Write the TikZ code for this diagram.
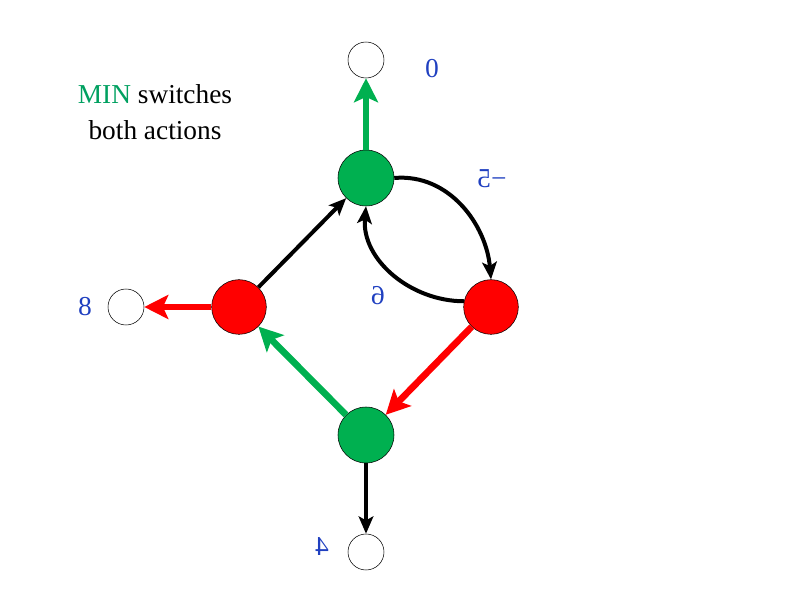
\documentclass[tikz,border=0pt]{standalone}
\usepackage{graphicx}
\usepackage{fontspec}
\setmainfont{Liberation Serif}
\usepackage{tikz}
\usetikzlibrary{positioning,arrows.meta}
\definecolor{mingreen}{RGB}{0,176,80}
\definecolor{maxred}{RGB}{255,0,0}
\definecolor{valblue}{RGB}{32,64,192}
\definecolor{notegreen}{RGB}{0,160,96}

\begin{document}
\begin{tikzpicture}[x=0.75pt,y=-0.75pt,
  every node/.style={font=\fontsize{20.5}{27}\selectfont},
  leaf/.style={circle,draw,fill=white,minimum size=27pt,inner sep=0pt},
  minnode/.style={circle,draw,fill=mingreen,minimum size=42pt,inner sep=0pt},
  maxnode/.style={circle,draw,fill=maxred,minimum size=41pt,inner sep=0pt},
  val/.style={text=valblue},
  plain/.style={line width=3pt,-{Stealth[length=13pt,width=11pt,inset=3pt]}},
  greenarr/.style={draw=mingreen,line width=5pt,-{Stealth[length=18pt,width=18pt,inset=4pt]}},
  redarr/.style={greenarr,draw=maxred}]
  \useasboundingbox (0,0) rectangle (794,595);
  % game tree
  \node[leaf] (leafTop) at (366,60) {};
  \node[minnode] (minTop) at (366,178) {};
  \node[maxnode] (maxLeft) at (239,307) {};
  \node[maxnode] (maxRight) at (491,307) {};
  \node[minnode] (minBot) at (366,435) {};
  \node[leaf] (leafLeft) at (126,307) {};
  \node[leaf] (leafBot) at (366,552) {};
  % payoffs (mirrored)
  \node[val] (valTop) at (432,69) {\reflectbox{0}};
  \node[val] (valOut) at (492,179) {\reflectbox{−5}};
  \node[val] (valBack) at (378,296) {\reflectbox{6}};
  \node[val] (valLeft) at (85,307) {\reflectbox{8}};
  \node[val] (valBot) at (322,547) {\reflectbox{4}};
  \node[align=center] (note) at (155,112) {\textcolor{notegreen}{MIN} switches\\both actions};
  \draw[greenarr] (minTop) -- (leafTop);
  \draw[plain] (maxLeft) -- (minTop);
  \draw[plain] (minTop.east) to[out=5,in=95] (maxRight.north);
  \draw[plain] (maxRight.168) to[out=180,in=-95] (minTop.south);
  \draw[redarr] (maxRight) -- (minBot);
  \draw[greenarr] (minBot) -- (maxLeft);
  \draw[redarr] (maxLeft) -- (leafLeft);
  \draw[plain] (minBot) -- (leafBot);
\end{tikzpicture}
\end{document}
